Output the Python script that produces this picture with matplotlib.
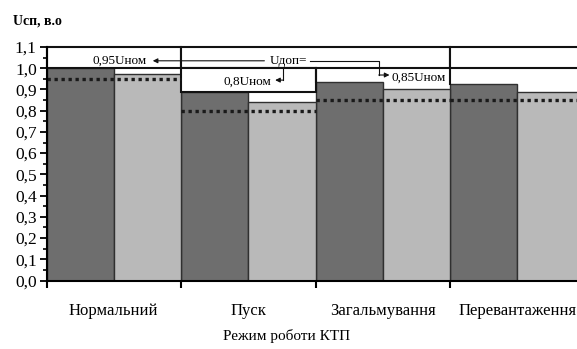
import matplotlib
matplotlib.use("Agg")
import matplotlib.pyplot as plt
from matplotlib.patches import Rectangle
from matplotlib.ticker import MultipleLocator, FuncFormatter

# дані
rezhymy = ["Нормальний", "Пуск", "Загальмування", "Перевантаження"]
u_temn = [1.00, 0.89, 0.935, 0.925]     # темні стовпці
u_svitl = [0.975, 0.84, 0.90, 0.89]     # світлі стовпці
u_dop = [0.95, 0.80, 0.85, 0.85]        # допустимий рівень (пунктир)
y_ticks = [i / 10 for i in range(12)]

plt.rcParams['font.family'] = ['Liberation Serif', 'DejaVu Serif']

fig = plt.figure(figsize=(5.77, 3.49), dpi=100)
W, H = 577, 349
x0, y0, y1 = 46.5, 280.5, 47
ax = fig.add_axes([x0 / W, (H - y0) / H, 538 / W, (y0 - y1) / H])

x = range(len(rezhymy))
ax.bar([i - 0.25 for i in x], u_temn, width=0.5, color='#6e6e6e',
       edgecolor='#303030', linewidth=1, zorder=2)
ax.bar([i + 0.25 for i in x], u_svitl, width=0.5, color='#b9b9b9',
       edgecolor='#303030', linewidth=1, zorder=2)

# пунктирні лінії допустимого рівня
for i, u in enumerate(u_dop):
    ax.plot([i - 0.5, i + 0.5], [u, u], linestyle=(0, (1, 1.1)),
            color='#1a1a1a', linewidth=2.4, zorder=4)

# рамки з підписами
ramky = [(-0.5, 1.0, 1.0, 0.1), (0.5, 1.0, 2.0, 0.1), (2.5, 1.0, 1.2, 0.1),
         (0.5, u_temn[1], 1.0, 1.0 - u_temn[1])]
for (rx, ry, rw, rh) in ramky:
    ax.add_patch(Rectangle((rx, ry), rw, rh, facecolor='white',
                           edgecolor='#111111', linewidth=1.5, zorder=3,
                           clip_on=False))
ax.plot([2.5, 2.5], [u_temn[3], 1.0], color='#111111', lw=1.5, zorder=3)
ax.plot([1.5, 1.5], [u_temn[2], 1.0], color='#111111', lw=1.5, zorder=3)

fs = 9.5
ax.text(0.04, 1.035, "0,95Uном", ha='center', va='center', fontsize=fs, zorder=5)
ax.text(1.30, 1.035, "Uдоп=", ha='center', va='center', fontsize=fs, zorder=5)
ax.text(0.99, 0.937, "0,8Uном", ha='center', va='center', fontsize=fs, zorder=5)
ax.text(2.27, 0.955, "0,85Uном", ha='center', va='center', fontsize=fs, zorder=5)

arr = dict(arrowstyle='-|>', color='#111111', lw=0.8, mutation_scale=7,
           shrinkA=0, shrinkB=0)
ax.annotate("", xy=(0.29, 1.035), xytext=(1.12, 1.035), arrowprops=arr, zorder=5)
ax.plot([1.46, 1.97, 1.97], [1.035, 1.035, 0.968], color='#111111', lw=0.8, zorder=5)
ax.annotate("", xy=(2.05, 0.968), xytext=(1.97, 0.968), arrowprops=arr, zorder=5)
ax.plot([1.26, 1.26], [1.007, 0.944], color='#111111', lw=0.8, zorder=5)
ax.annotate("", xy=(1.20, 0.944), xytext=(1.26, 0.944), arrowprops=arr, zorder=5)

ax.set_xlim(-0.5, 3.5)
ax.set_ylim(0, 1.1)
ax.set_yticks(y_ticks)
ax.yaxis.set_major_formatter(FuncFormatter(lambda v, p: f"{v:.1f}".replace('.', ',')))
ax.yaxis.set_minor_locator(MultipleLocator(0.05))
ax.set_xticks([-0.5, 0.5, 1.5, 2.5])
ax.set_xticklabels([])
ax.set_xticks(list(x), minor=True)
ax.set_xticklabels(rezhymy, minor=True, fontsize=12)
ax.tick_params(axis='x', which='major', direction='out', length=5, width=1.5)
ax.tick_params(axis='x', which='minor', length=0, pad=16)
ax.tick_params(axis='y', which='major', direction='out', length=5, width=1.3,
               labelsize=12.5, pad=2)
ax.tick_params(axis='y', which='minor', direction='out', length=3, width=1.2)

for s in ['top', 'right']:
    ax.spines[s].set_visible(False)
ax.spines['left'].set_linewidth(1.5)
ax.spines['bottom'].set_linewidth(1.5)
ax.spines['left'].set_zorder(6)

fig.text(13 / W, 1 - 21 / H, "Uсп, в.о", ha='left', va='center', fontsize=10,
         fontweight='bold')
fig.text(287 / W, 1 - 336 / H, "Режим роботи КТП", ha='center', va='center',
         fontsize=11)

fig.savefig("out.png", dpi=100)
